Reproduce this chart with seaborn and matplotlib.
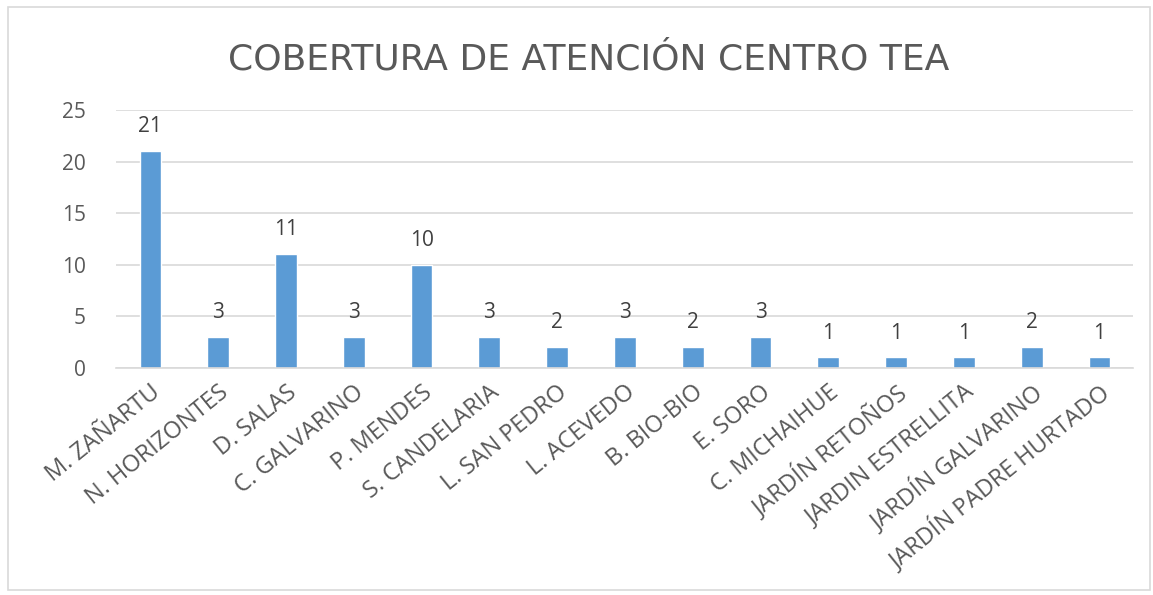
import seaborn as sns
import matplotlib.pyplot as plt
import pandas as pd
from matplotlib.patches import Rectangle

centros = ['M. ZAÑARTU', 'N. HORIZONTES', 'D. SALAS', 'C. GALVARINO', 'P. MENDES',
	'S. CANDELARIA', 'L. SAN PEDRO', 'L. ACEVEDO', 'B. BIO-BIO', 'E. SORO',
	'C. MICHAIHUE', 'JARDÍN RETOÑOS', 'JARDIN ESTRELLITA', 'JARDÍN GALVARINO',
	'JARDÍN PADRE HURTADO']
cobertura = [21, 3, 11, 3, 10, 3, 2, 3, 2, 3, 1, 1, 1, 2, 1]
titulo = 'COBERTURA DE ATENCIÓN CENTRO TEA'

df = pd.DataFrame({'centro': centros, 'cobertura': cobertura})

sns.set_style('white')
plt.rcParams['font.family'] = ['Open Sans', 'DejaVu Sans']
gris = '#595959'

fig = plt.figure(figsize=(11.53, 5.95), dpi=100)
ax = fig.add_axes([0.101, 0.382, 0.882, 0.433])

plot = sns.barplot(x='centro', y='cobertura', data=df, color='#5B9BD5',
	saturation=1, width=0.32, ax=ax)

ax.set_ylim(0, 25)
ax.set_yticks([0, 5, 10, 15, 20, 25])
ax.set_xlim(-0.5, len(centros) - 0.5)
ax.yaxis.grid(True, color='#D9D9D9', linewidth=1.2)
ax.set_axisbelow(True)
for s in ['top', 'right', 'left']:
	ax.spines[s].set_visible(False)
ax.spines['bottom'].set_color('#D9D9D9')
ax.spines['bottom'].set_linewidth(1.2)
ax.set_xlabel('')
ax.set_ylabel('')
ax.tick_params(axis='both', length=0, colors=gris)
ax.tick_params(axis='y', labelsize=15, pad=22)
ax.tick_params(axis='x', labelsize=17, pad=9)
plt.setp(ax.get_xticklabels(), rotation=39, ha='right', rotation_mode='anchor')

for i, v in enumerate(cobertura):
	ax.annotate(str(v), (i, v), xytext=(0, 10), textcoords='offset points',
		ha='center', va='bottom', fontsize=15, color='#404040')

fig.text(0.511, 0.9, titulo, ha='center', va='center', fontsize=26,
	color=gris, family=['DejaVu Sans', 'Open Sans'])

fig.patches.append(Rectangle((0.007, 0.008), 0.99, 0.98, transform=fig.transFigure,
	fill=False, edgecolor='#D9D9D9', linewidth=1.2))

fig.savefig('out.png', dpi=100)
plt.close('all')
